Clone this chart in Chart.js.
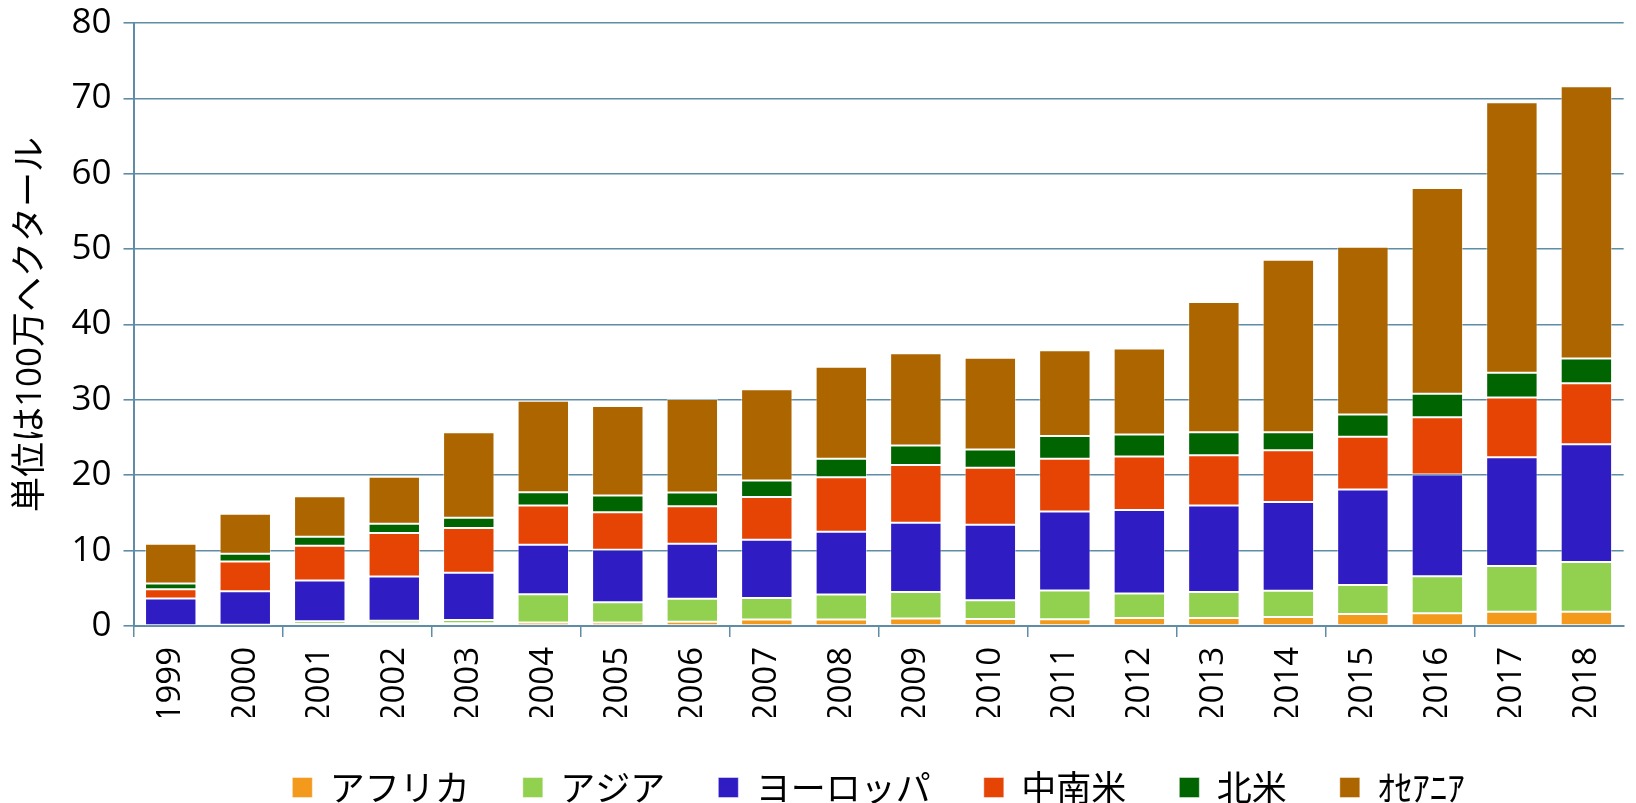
<!DOCTYPE html>
<html>
<head>
<meta charset="utf-8">
<script src="https://cdn.jsdelivr.net/npm/chart.js@4/dist/chart.umd.min.js"></script>
<style>
html,body{margin:0;padding:0;background:#fff;}
#wrap{width:1636px;height:803px;}
</style>
</head>
<body>
<div id="wrap"><canvas id="c" width="1636" height="803"></canvas></div>
<script>
const years = ['1999','2000','2001','2002','2003','2004','2005','2006','2007','2008','2009','2010','2011','2012','2013','2014','2015','2016','2017','2018'];
const africa   = [0.05,0.05,0.27,0.36,0.36,0.45,0.45,0.58,0.85,0.85,0.98,0.93,0.88,1.06,1.06,1.2,1.6,1.7,1.9,1.9];
const asia     = [0.05,0.1,0.35,0.35,0.44,3.75,2.7,3.02,2.88,3.33,3.54,2.5,3.82,3.24,3.44,3.48,3.83,4.9,6.05,6.6];
const europe   = [3.54,4.46,5.42,5.86,6.25,6.57,6.95,7.3,7.72,8.32,9.18,10.0,10.5,11.1,11.5,11.77,12.67,13.5,14.45,15.6];
const latinAm  = [1.24,3.95,4.6,5.76,5.94,5.23,5.0,5.0,5.65,7.25,7.67,7.57,7.0,7.1,6.65,6.88,7.0,7.6,7.9,8.1];
const northAm  = [0.76,1.01,1.19,1.23,1.37,1.74,2.2,1.8,2.2,2.45,2.58,2.4,3.0,2.9,3.05,2.37,2.95,3.1,3.3,3.3];
const oceania  = [5.26,5.33,5.37,6.24,11.34,12.16,11.9,12.4,12.1,12.2,12.25,12.2,11.4,11.4,17.3,22.9,22.25,27.3,35.9,36.1];
const seriesNames = ['アフリカ','アジア','ヨーロッパ','中南米','北米','ｵｾｱﾆｱ'];
const yTicks = [0,10,20,30,40,50,60,70,80];
const yTitle = '単位は100万ヘクタール';

const colors = ['#F39A1D','#92D050','#2F1CC3','#E54405','#006400','#AD6500'];
const dataSets = [africa, asia, europe, latinAm, northAm, oceania];
const axisColor = '#5f8ca6';

new Chart(document.getElementById('c'), {
  type: 'bar',
  data: {
    labels: years,
    datasets: dataSets.map((d, i) => ({
      label: seriesNames[i],
      data: d,
      backgroundColor: colors[i],
      borderColor: 'rgba(255,255,255,0.45)',
      borderWidth: 1,
      borderSkipped: false,
      categoryPercentage: 1.0,
      barPercentage: 0.69
    }))
  },
  options: {
    responsive: false,
    animation: false,
    devicePixelRatio: 1,
    layout: { padding: { top: 23, right: 0, left: 0, bottom: -12 } },
    plugins: {
      tooltip: { enabled: false },
      legend: {
        position: 'bottom',
        fullSize: false,
        labels: {
          boxWidth: 20,
          boxHeight: 20,
          padding: 53,
          color: '#000',
          font: { family: "'Noto Sans CJK JP'", size: 35 }
        }
      }
    },
    scales: {
      x: {
        stacked: true,
        grid: {
          display: true,
          drawOnChartArea: false,
          drawTicks: true,
          tickLength: 11,
          lineWidth: 1.5,
          color: (ctx) => (ctx.index % 2 === 0 ? axisColor : 'rgba(0,0,0,0)')
        },
        border: { display: true, color: axisColor, width: 2 },
        ticks: {
          minRotation: 90,
          maxRotation: 90,
          padding: 10,
          color: '#000',
          font: { family: "'Open Sans', 'Noto Sans'", size: 33 }
        },
        afterFit: (scale) => { scale.height = 91; }
      },
      y: {
        stacked: true,
        min: 0,
        max: 80,
        afterBuildTicks: (scale) => { scale.ticks = yTicks.map(v => ({ value: v })); },
        grid: {
          color: axisColor,
          lineWidth: 1.6,
          tickLength: 10,
          drawTicks: true
        },
        border: { display: true, color: axisColor, width: 2 },
        ticks: {
          padding: 12,
          color: '#000',
          font: { family: "'Open Sans', 'Noto Sans'", size: 35, lineHeight: 0.6 }
        },
        title: {
          display: true,
          text: yTitle,
          color: '#000',
          padding: { top: 10, bottom: 0 },
          font: { family: "'Open Sans', 'Noto Sans CJK JP'", size: 35 }
        },
        afterFit: (scale) => { scale.width = 133.5; }
      }
    }
  }
});
</script>
</body>
</html>
